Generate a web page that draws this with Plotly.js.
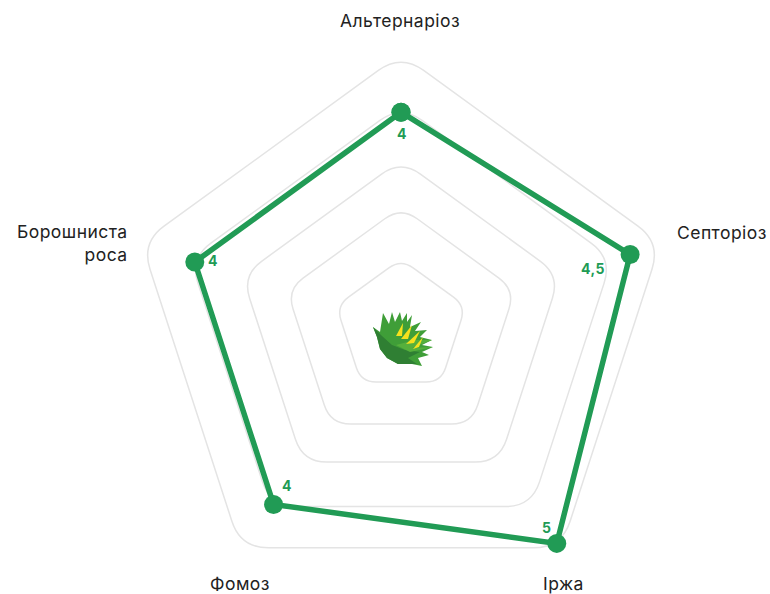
<!DOCTYPE html>
<html><head><meta charset="utf-8">
<script src="https://cdn.plot.ly/plotly-3.0.1.min.js"></script>
<style>html,body{margin:0;padding:0;background:#fff}#c{width:770px;height:594px}.annotation-text{letter-spacing:.45px}</style>
</head><body><div id="c"></div>
<script>
const categories = ['Альтернаріоз','Септоріоз','Іржа','Фомоз','Борошниста<br>роса'];
const values = [4,4.5,5,4,4];
const valueLabels = ['4','4,5','5','4','4'];
const ringRadii = [68,120,167,222,273];
const ringRounding = [15,20,24,26,28];

const W=770,H=594,CX=401,RING_CY=327,CY=329,RPX=265,RMIN=-0.5,RMAX=5;
const px=x=>x/W, py=y=>1-y/H;
const pt=(x,y)=>px(x).toFixed(5)+','+py(y).toFixed(5);
const GREEN='#219b55',GRID='#e4e4e4',FONT='Inter, "Noto Sans", sans-serif';

function vertex(i,r,cy){const a=(i*72-90)*Math.PI/180;return [CX+r*Math.cos(a),cy+r*Math.sin(a)];}
function ringPath(r,d){
  let s='';
  for(let i=0;i<5;i++){
    const v=vertex(i,r,RING_CY),p=vertex(i+4,r,RING_CY),n=vertex(i+1,r,RING_CY);
    const lp=Math.hypot(p[0]-v[0],p[1]-v[1]);
    const a=[v[0]+(p[0]-v[0])*d/lp,v[1]+(p[1]-v[1])*d/lp];
    const b=[v[0]+(n[0]-v[0])*d/lp,v[1]+(n[1]-v[1])*d/lp];
    s+=(i?'L':'M')+pt(a[0],a[1])+' Q'+pt(v[0],v[1])+' '+pt(b[0],b[1])+' ';
  }
  return s+'Z';
}
const shapes=ringRadii.map((r,i)=>({type:'path',xref:'paper',yref:'paper',layer:'below',path:ringPath(r,ringRounding[i]),line:{color:GRID,width:1.5},fillcolor:'rgba(0,0,0,0)'}));

// Small plant emblem at the centre
const emblem=[
 ['#3f9e38',[[373,327],[380,332],[383,313],[389,324],[392,312],[395,322],[400,312],[402,321],[407,313],[407,322],[412,315],[410,327],[421,322],[415,331],[427,330],[420,337],[432,340],[422,345],[433,347],[422,352],[429,355],[418,358],[422,366],[407,363],[398,364],[387,358],[380,349],[377,337]]],
 ['#2f7f33',[[373,327],[382,336],[392,345],[405,350],[420,352],[408,358],[417,364],[398,364],[387,358],[380,349],[377,337]]],
 ['#56b03c',[[396,345],[415,340],[432,340],[412,348],[433,347],[410,352]]],
 ['#f6e11c',[[396,336],[403,323],[402,336]]],
 ['#f6e11c',[[401,339],[412,325],[408,339]]],
 ['#f6e11c',[[406,344],[420,331],[414,343]]],
 ['#f6e11c',[[413,349],[423,337],[419,347]]]
];
emblem.forEach(([c,p])=>shapes.push({type:'path',xref:'paper',yref:'paper',layer:'above',
  path:'M'+p.map(q=>pt(q[0],q[1])).join(' L')+' Z',fillcolor:c,line:{width:0}}));

const catPos=[[400,20.5,'center'],[768,232,'right'],[585,583,'right'],[271,583,'right'],[129,243,'right']];
const labelOffset=[[1,21],[-37,13.5],[-10,-15.5],[13,-19],[18,-1]];
const annotations=categories.map((c,i)=>({xref:'paper',yref:'paper',x:px(catPos[i][0]),y:py(catPos[i][1]),borderpad:0,
  text:c,showarrow:false,xanchor:catPos[i][2],yanchor:'middle',align:'right',font:{family:FONT,size:17.5,color:'#222'}}));
values.forEach((v,i)=>{
  const p=vertex(i,(v-RMIN)/(RMAX-RMIN)*RPX,CY);
  annotations.push({xref:'paper',yref:'paper',x:px(p[0]+labelOffset[i][0]),y:py(p[1]+labelOffset[i][1]),text:'<b>'+valueLabels[i]+'</b>',
    showarrow:false,xanchor:'center',yanchor:'middle',font:{family:FONT,size:14,color:GREEN}});
});

const plain=categories.map(c=>c.replace('<br>',' '));
Plotly.newPlot('c',[{type:'scatterpolar',mode:'lines+markers',r:values.concat(values[0]),theta:plain.concat(plain[0]),
  line:{color:GREEN,width:5.5},marker:{color:GREEN,size:19},hoverinfo:'skip',cliponaxis:false}],{
  width:W,height:H,margin:{l:0,r:0,t:0,b:0},showlegend:false,paper_bgcolor:'#fff',
  polar:{domain:{x:[(CX-RPX)/W,(CX+RPX)/W],y:[(H-CY-RPX)/H,(H-CY+RPX)/H]},bgcolor:'rgba(0,0,0,0)',
    radialaxis:{visible:false,range:[RMIN,RMAX]},
    angularaxis:{visible:false,direction:'clockwise',rotation:90,type:'category',categoryarray:plain}},
  shapes,annotations},{displayModeBar:false,staticPlot:true});
</script></body></html>
